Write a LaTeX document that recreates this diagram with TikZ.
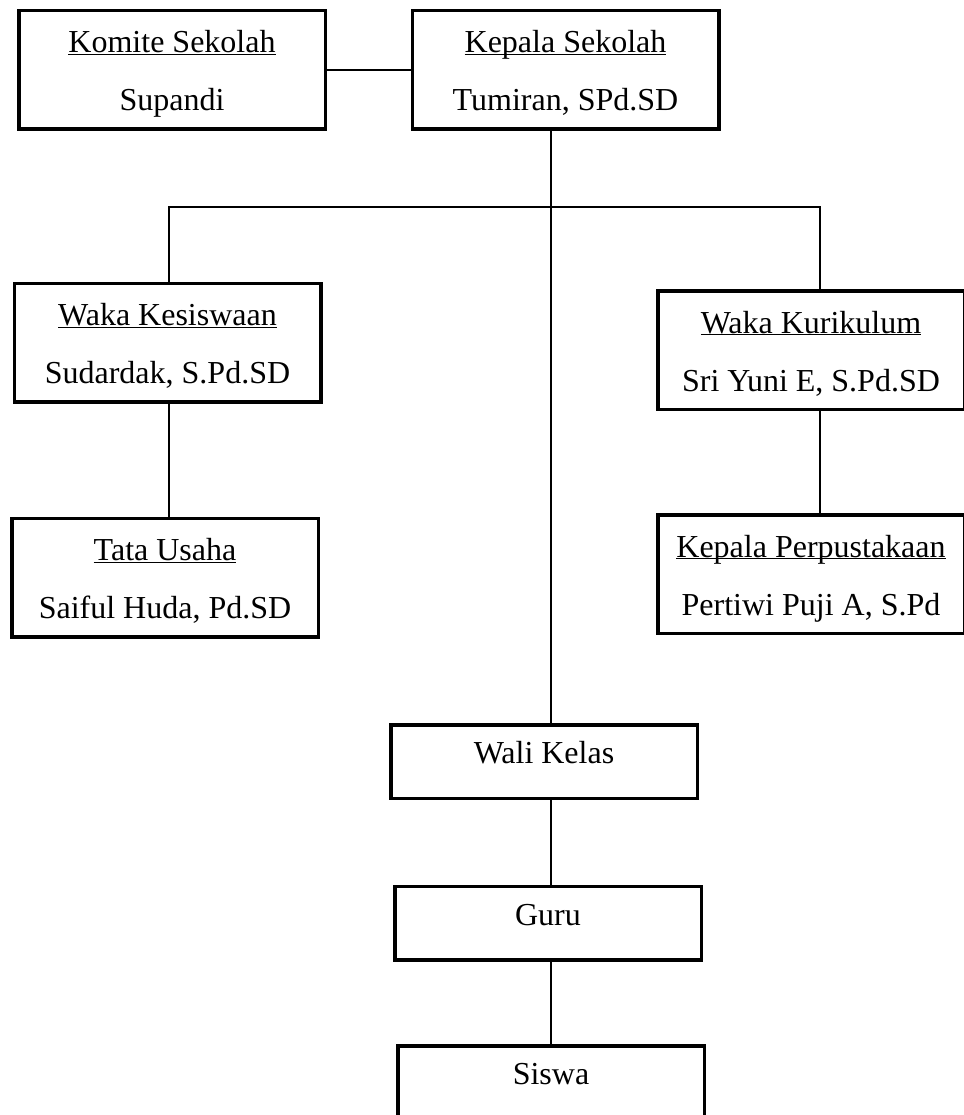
\documentclass[tikz,border=0pt]{standalone}
\usepackage{fontspec}
\setmainfont{Liberation Serif}
\newcommand{\garis}[1]{\underline{\raisebox{0pt}[\height][0pt]{#1}}}
\tikzset{
	kotak/.style={draw,line width=3.5pt,minimum width=306.5pt,minimum height=118.5pt,
		inner sep=0pt,align=center,font=\fontsize{32}{58}\selectfont,
		text height=89pt,text depth=7pt},
	kotakkecil/.style={kotak,minimum height=73.5pt,text height=21pt,text depth=17pt},
	hubung/.style={line width=1.6pt}
}
\begin{document}
\begin{tikzpicture}[x=1pt,y=-1pt]
	\useasboundingbox (0,0) rectangle (963,1115);

	\node[kotak] (komite) at (172,70) {\garis{Komite Sekolah}\\Supandi};
	\node[kotak] (kepala) at (565.5,70) {\garis{Kepala Sekolah}\\Tumiran, SPd.SD};
	\node[kotak] (wakakes) at (167.5,342.5) {\garis{Waka Kesiswaan}\\Sudardak, S.Pd.SD};
	\node[kotak] (tatausaha) at (165,577.5) {\garis{Tata Usaha}\\Saiful Huda, Pd.SD};
	\node[kotak] (wakakur) at (811,350) {\garis{Waka Kurikulum}\\Sri Yuni E, S.Pd.SD};
	\node[kotak] (perpus) at (811,574) {\garis{Kepala Perpustakaan}\\Pertiwi Puji A, S.Pd};
	\node[kotakkecil] (wali) at (544,761.5) {Wali Kelas};
	\node[kotakkecil] (guru) at (548,923) {Guru};
	\node[kotakkecil] (siswa) at (551,1082.5) {Siswa};

	\coordinate (pusat) at (551,207);
	\coordinate (kiri) at (169,207);
	\coordinate (kanan) at (820,207);

	\draw[hubung] (komite) -- (kepala);
	\draw[hubung] (kepala.south -| pusat) -- (wali.north -| pusat);
	\draw[hubung] (wakakes.north -| kiri) -- (kiri) -- (kanan) -- (wakakur.north -| kanan);
	\draw[hubung] (wakakes.south -| kiri) -- (tatausaha.north -| kiri);
	\draw[hubung] (wakakur.south -| kanan) -- (perpus.north -| kanan);
	\draw[hubung] (wali.south -| pusat) -- (guru.north -| pusat);
	\draw[hubung] (guru.south -| pusat) -- (siswa.north -| pusat);
\end{tikzpicture}
\end{document}
